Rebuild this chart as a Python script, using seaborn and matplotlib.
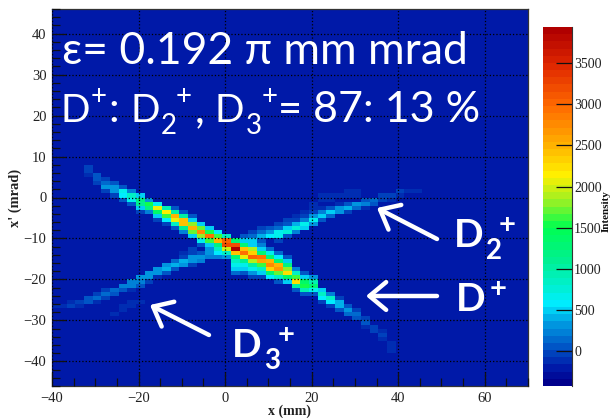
import numpy as np
import matplotlib
matplotlib.use("Agg")
import matplotlib.pyplot as plt
import seaborn as sns
from matplotlib.colors import LinearSegmentedColormap

# histogram bins: 2 mm wide in x, 1 mrad in x'
x_start = -40.6
n_cols = 56
y_top = 46
n_rows = 92
background = -180

# each beam: column centre, top row (mrad) and the cell values going down from it
main_x = [-31.6, -29.6, -27.6, -25.6, -23.6, -21.6, -19.6, -17.6, -15.6, -13.6, -11.6, -9.6, -7.6, -5.6, -3.6, -1.6,
          0.4, 2.4, 4.4, 6.4, 8.4, 10.4, 12.4, 14.4, 16.4, 18.4, 20.4, 22.4, 24.4, 26.4, 28.4, 30.4, 32.4, 34.4, 36.4, 38.4]
main_top = [8, 6, 5, 4, 3, 2, 1, 0, -1, -2, -2, -3, -4, -6, -7, -8,
            -9, -10, -10, -10, -10, -12, -13, -14, -17, -18, -19, -22, -23, -24, -26, -27, -29, -31, -32, -35]
main_vals = [
    [100, 120, 80],
    [170, 200, 120],
    [100, 250, 350, 100],
    [150, 350, 400, 100],
    [150, 700, 600, 150],
    [300, 850, 700, 150],
    [500, 1200, 1100, 500, 100],
    [400, 1500, 1200, 300],
    [700, 2100, 1400, 500, 100],
    [900, 2150, 1600, 600, 100],
    [200, 1000, 2500, 2100, 800, 200],
    [150, 1000, 2400, 2400, 1100, 300],
    [150, 500, 1800, 2500, 1700, 500],
    [500, 1700, 2800, 1800, 700, 150],
    [500, 1500, 2900, 1600, 500, 400, 400, 300],
    [600, 1600, 2500, 1200, 800, 600, 300],
    [800, 3000, 3200, 2000, 800, 400],
    [1300, 3200, 3900, 2400, 1300, 800, 700, 500, 250],
    [500, 1300, 2400, 2900, 2100, 1100, 700, 500, 200],
    [500, 500, 1900, 2300, 3000, 1900, 1000, 700, 400, 100],
    [200, 300, 500, 1300, 2900, 2600, 1600, 800, 500, 100],
    [250, 700, 1300, 2500, 2800, 2300, 1300, 600],
    [250, 600, 1300, 2500, 2700, 1700, 800, 200],
    [200, 500, 1200, 1800, 2200, 1400, 500],
    [300, 800, 1600, 2200, 1000, 200],
    [200, 500, 1400, 1500, 900, 200],
    [400, 900, 1300, 700, 150],
    [500, 850, 600, 100],
    [300, 800, 600, 100],
    [100, 450, 450, 150],
    [200, 350, 250],
    [100, 250, 200],
    [100, 170, 80],
    [120, 100],
    [80, 90, 70],
    [70, 60, 40],
]

d2_x = [4.4, 6.4, 8.4, 10.4, 12.4, 14.4, 16.4, 18.4, 20.4, 22.4, 24.4, 26.4, 28.4, 30.4, 32.4, 34.4, 36.4, 38.4, 40.4, 42.4, 44.4]
d2_top = [-9, -8, -7, -7, -6, -5, -4, -3, -1, 1, 1, 1, 2, 2, 0, 0, 1, 1, 2, 2, 2]
d2_vals = [
    [200],
    [100, 250],
    [100, 250, 450],
    [200, 400, 600],
    [100, 250, 650, 700, 100],
    [100, 200, 500, 750, 200],
    [70, 100, 450, 750, 300],
    [80, 120, 300, 700, 500],
    [60, 80, 120, 400, 700, 350],
    [60, 60, 0, 80, 300, 550, 150],
    [70, 70, 0, 150, 500, 250],
    [80, 0, 80, 400, 350],
    [70, 80, 0, 200, 450, 100],
    [70, 70, 0, 350, 250],
    [200, 300, 50],
    [250, 150],
    [130, 120],
    [90, 60],
    [90, 70],
    [70],
    [50],
]

d3_x = [-5.6, -7.6, -9.6, -11.6, -13.6, -15.6, -17.6, -19.6, -21.6, -23.6, -25.6, -27.6, -29.6, -31.6, -33.6, -35.6, -37.6, -39.6]
d3_top = [-13, -12, -13, -15, -16, -17, -18, -19, -20, -21, -22, -22, -23, -24, -25, -25, -26, -26]
d3_vals = [
    [150, 400, 300],
    [100, 100, 350, 350, 100],
    [70, 120, 450, 350],
    [250, 450, 200],
    [350, 450, 150],
    [350, 400, 80],
    [350, 350, 100],
    [400, 300, 150, 0, 0, 0, 50],
    [300, 300, 80, 0, 0, 70, 60],
    [300, 200, 0, 0, 0, 50, 50],
    [250, 200, 0, 0, 0, 0, 40],
    [100, 250, 130],
    [100, 220, 70],
    [150, 150],
    [120, 60],
    [60, 90],
    [60],
    [50],
]

# slightly darker patches in the empty top part of the histogram
dark_x = [-17.6, -15.6, -13.6, -11.6, -9.6, -7.6, -5.6, -3.6, -1.6, 0.4, 2.4, 4.4, 6.4, 8.4, 10.4, 12.4, 14.4, 16.4, 18.4, 20.4, 22.4, 60.4]
dark_end = [44, 43, 42, 41, 40, 40, 39, 38, 37, 36, 35, 34, 36, 34, 33, 32, 30, 28, 26, 24, 27, 38]
dark_vals = [-15, -15, -15, -15, -15, -20, -20, -20, -20, -20, -25, -25, -40, -45, -45, -45, -45, -45, -40, -30, -20, -25]

# colour bar of the histogram
cbar_stops = [-425, -250, 0, 300, 560, 800, 1100, 1500, 1850, 2150, 2500, 3000, 3500, 3940]
cbar_colors = ["#00008c", "#0018a8", "#0050c4", "#0098e0", "#00eeff", "#00f0c8", "#00f090", "#00ff50",
               "#a4f020", "#fff000", "#ffb400", "#ff6a00", "#e02800", "#b00000"]

x_ticks = [-40, -20, 0, 20, 40, 60]
x_labels = ["\u221240", "\u221220", "0", "20", "40", "60"]
y_ticks = [-40, -30, -20, -10, 0, 10, 20, 30, 40]
y_labels = ["\u221240", "\u221230", "\u221220", "\u221210", "0", "10", "20", "30", "40"]
cbar_ticks = [0, 500, 1000, 1500, 2000, 2500, 3000, 3500]

W, H = 612, 418


def to_col(x):
    return (np.asarray(x, dtype=float) - x_start) / 2


def to_row(y):
    return y_top - np.asarray(y, dtype=float)


def px_axes(left, top, right, bottom):
    return [left / W, 1 - bottom / H, (right - left) / W, (bottom - top) / H]


def fill_beam(grid, xs, tops, vals):
    for x, top, col_vals in zip(xs, tops, vals):
        c = int(to_col(x))
        for k, v in enumerate(col_vals):
            grid[y_top - top + k, c] += v


def put(txt, x, y, size, bold=False, va="baseline", ha="left"):
    fig.text(x / W, 1 - y / H, txt, fontsize=size, color="white", family=label_font,
             fontweight="bold" if bold else "normal", va=va, ha=ha)


plt.rcParams["font.family"] = ["Liberation Serif", "DejaVu Serif"]

counts = np.zeros((n_rows, n_cols))
fill_beam(counts, main_x, main_top, main_vals)
fill_beam(counts, d2_x, d2_top, d2_vals)
fill_beam(counts, d3_x, d3_top, d3_vals)
# faint cells sit on the background level, bright ones
grid = np.where(counts >= 600, counts, background + 1.3 * counts)
for x, end, v in zip(dark_x, dark_end, dark_vals):
    grid[0:y_top - end, int(to_col(x))] += v

cmap = LinearSegmentedColormap.from_list(
    "root_rainbow",
    [((s - cbar_stops[0]) / (cbar_stops[-1] - cbar_stops[0]), c) for s, c in zip(cbar_stops, cbar_colors)],
    N=50,
)

fig = plt.figure(figsize=(W / 100, H / 100), dpi=100)
ax = fig.add_axes(px_axes(52, 9, 528, 386))
cax = fig.add_axes(px_axes(543, 27, 572, 386))

sns.heatmap(grid, ax=ax, cbar_ax=cax, cmap=cmap, vmin=cbar_stops[0], vmax=cbar_stops[-1],
            xticklabels=False, yticklabels=False, linewidths=0)
ax.set_xlim(to_col(-40), to_col(70))
ax.set_ylim(to_row(-46), to_row(46))

ax.set_xticks(to_col(x_ticks))
ax.set_xticklabels(x_labels, fontsize=10.5, color="#222222")
ax.set_yticks(to_row(y_ticks))
ax.set_yticklabels(y_labels, fontsize=10.5, color="#222222")
ax.set_xticks(to_col(np.arange(-40, 71, 5)), minor=True)
ax.set_yticks(to_row(np.arange(-46, 47, 2)), minor=True)
ax.tick_params(which="major", direction="in", length=10, width=0.9, color="#111111", pad=4)
ax.tick_params(which="minor", direction="in", length=5.5, width=0.9, color="#111111")
ax.grid(True, which="major", linestyle=":", linewidth=0.9, color="black")
ax.set_axisbelow(False)
for spine in ax.spines.values():
    spine.set_visible(True)
    spine.set_linewidth(0.9)
    spine.set_color("#333333")
ax.spines["left"].set_color("#001070")
ax.set_xlabel("")
ax.set_ylabel("")

fig.text(289 / W, 1 - 411 / H, "x (mm)", fontsize=10, fontweight="bold", ha="center", va="center", color="#222222")
fig.text(15 / W, 1 - 198 / H, "x' (mrad)", fontsize=10.4, fontweight="bold", rotation=90, ha="center", va="center", color="#222222")

cb = ax.collections[0].colorbar
cb.set_ticks(cbar_ticks)
cb.set_ticklabels([str(t) for t in cbar_ticks], fontsize=10, color="#222222")
cb.ax.tick_params(direction="in", length=11.5, width=0.9, color="#111111", pad=1.5, right=True)
cb.outline.set_visible(False)
cax.spines["right"].set_visible(True)
cax.spines["right"].set_linewidth(0.8)
cax.spines["right"].set_color("#333333")
fig.text(606.5 / W, 1 - 211 / H, "Intensity", fontsize=8, fontweight="bold", rotation=90, ha="center", va="center", color="#111111")

# slide annotations pasted over the plot
label_font = ["Lato", "DejaVu Sans"]
put("\u03b5= 0.192 \u03c0 mm mrad", 62, 64, 32)
put("D", 60, 122, 28)
put("+", 91, 105, 20)
put(":", 108, 122, 31)
put("D", 130, 122, 28)
put("2", 161, 134, 20)
put("+", 176, 105, 20)
put(",", 195, 122, 31)
put("D", 215, 122, 28)
put("3", 246, 134, 20)
put("+", 262, 105, 20)
put("=", 278, 122, 30)
put("87: 13 %", 313, 122, 31)

put("D", 454, 247, 28, bold=True)
put("2", 486, 259, 20, bold=True)
put("+", 499, 233, 21, bold=True)
put("D", 456, 311, 28, bold=True)
put("+", 490, 297, 21, bold=True)
put("D", 232, 357, 28, bold=True)
put("3", 264, 369, 20, bold=True)
put("+", 278, 343, 21, bold=True)

arrows = [((377, 208), (437, 239)), ((366, 296), (437, 296)), ((150, 305), (209, 335))]
for tip, tail in arrows:
    ax.annotate("", xy=(tip[0] / W, 1 - tip[1] / H), xytext=(tail[0] / W, 1 - tail[1] / H),
                xycoords="figure fraction", textcoords="figure fraction",
                arrowprops=dict(arrowstyle="->,head_length=0.6,head_width=0.5", lw=3.2, color="white",
                                shrinkA=0, shrinkB=0, mutation_scale=20))

fig.savefig("out.png", dpi=100)
